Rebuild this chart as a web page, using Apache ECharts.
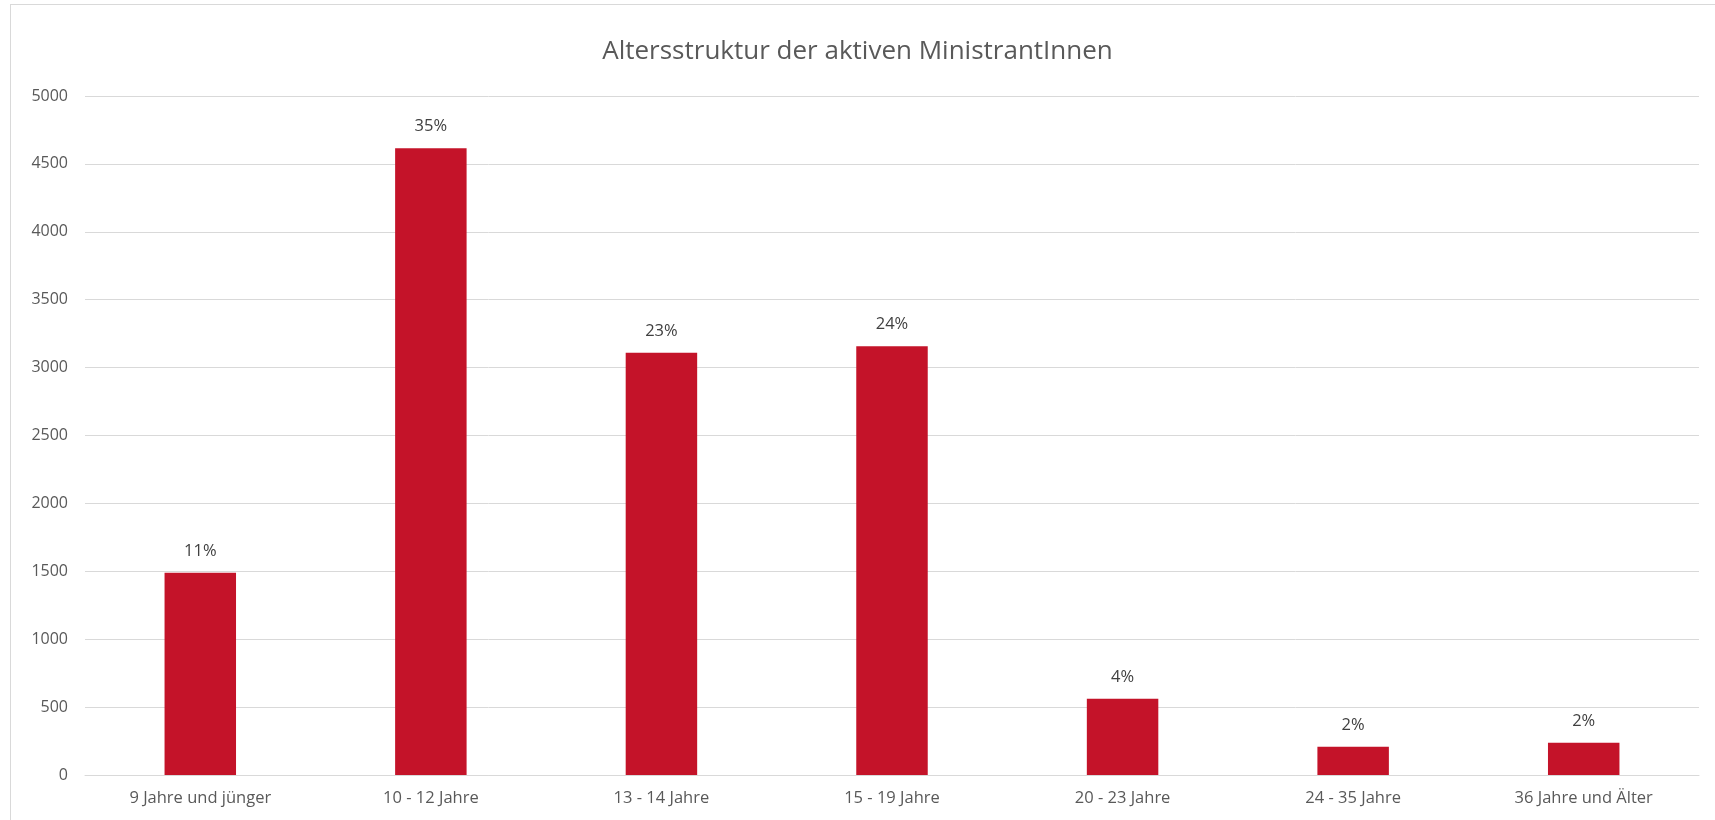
<!DOCTYPE html>
<html><head><meta charset="utf-8">
<script src="https://cdn.jsdelivr.net/npm/echarts@6/dist/echarts.min.js"></script>
<style>html,body{margin:0;padding:0;background:#fff}#c{width:1715px;height:820px}
#frame{position:absolute;left:10px;top:4px;width:1720px;height:840px;border:1px solid #d9d9d9;pointer-events:none}</style>
</head><body><div id="c"></div><div id="frame"></div>
<script>
const titleText = 'Altersstruktur der aktiven MinistrantInnen';
const categories = ['9 Jahre und jünger','10 - 12 Jahre','13 - 14 Jahre','15 - 19 Jahre','20 - 23 Jahre','24 - 35 Jahre','36 Jahre und Älter'];
const values = [1490, 4616, 3109, 3158, 561, 208, 237];
const percentLabels = ['11%','35%','23%','24%','4%','2%','2%'];
const yTicks = [0, 500, 1000, 1500, 2000, 2500, 3000, 3500, 4000, 4500, 5000];

const chart = echarts.init(document.getElementById('c'));
const font = 'Open Sans, Liberation Sans, sans-serif';
chart.setOption({
  animation: false,
  title: { text: titleText, left: 'center', top: 34, textStyle: { fontFamily: font, fontSize: 26, fontWeight: 'normal', color: '#595959' } },
  grid: { left: 85, right: 16, top: 96, bottom: 45, containLabel: false },
  xAxis: { type: 'category', data: categories,
    axisLine: { show: true, lineStyle: { color: '#d9d9d9', width: 1 } },
    axisTick: { show: false },
    axisLabel: { color: '#595959', fontFamily: font, fontSize: 16.5, margin: 15 } },
  yAxis: { type: 'value', min: yTicks[0], max: yTicks[yTicks.length-1], interval: yTicks[1]-yTicks[0],
    axisLine: { show: false }, axisTick: { show: false },
    splitLine: { lineStyle: { color: '#d9d9d9', width: 1 } },
    axisLabel: { color: '#595959', fontFamily: font, fontSize: 16, margin: 17, formatter: v => String(v) } },
  series: [{ type: 'bar', data: values, barWidth: '31%',
    itemStyle: { color: '#C41329' },
    label: { show: true, position: 'top', distance: 13, color: '#404040', fontFamily: font, fontSize: 16.5,
      formatter: p => percentLabels[p.dataIndex] } }]
});
</script></body></html>
